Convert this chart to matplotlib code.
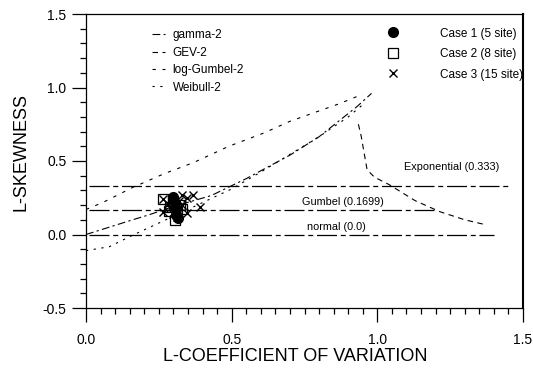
import matplotlib
matplotlib.use("Agg")
import matplotlib.pyplot as plt
from matplotlib.ticker import MultipleLocator, FormatStrFormatter

plt.rcParams['font.family'] = ['Liberation Sans', 'DejaVu Sans']

# ---- data ----
gamma_cv = [0.00, 0.08, 0.16, 0.21, 0.30, 0.43, 0.55, 0.70, 0.80, 0.93, 0.98]
gamma_sk = [0.00, 0.05, 0.10, 0.13, 0.19, 0.265, 0.38, 0.54, 0.665, 0.87, 0.96]

gev_cv = [0.935, 0.945, 0.955, 0.965, 0.99, 1.04, 1.13, 1.215, 1.30, 1.375]
gev_sk = [0.75, 0.665, 0.55, 0.44, 0.39, 0.34, 0.23, 0.155, 0.10, 0.065]

logg_cv = [0.00, 0.06, 0.12, 0.16, 0.27, 0.37, 0.49, 0.61, 0.70, 0.87, 0.95]
logg_sk = [0.17, 0.22, 0.28, 0.32, 0.415, 0.49, 0.60, 0.69, 0.77, 0.89, 0.955]

weib_cv = [0.00, 0.08, 0.16, 0.25, 0.35, 0.43, 0.50, 0.60, 0.70, 0.80, 0.90, 0.96]
weib_sk = [-0.11, -0.083, -0.005, 0.078, 0.17, 0.245, 0.31, 0.425, 0.545, 0.665, 0.80, 0.90]

ref_names = ['Exponential (0.333)', 'Gumbel (0.1699)', 'normal (0.0)']
ref_values = [0.333, 0.1699, 0.0]
ref_xmax = [1.45, 1.20, 1.40]

case1_cv = [0.300, 0.305, 0.310, 0.308, 0.315]
case1_sk = [0.255, 0.215, 0.175, 0.135, 0.110]

case2_cv = [0.265, 0.298, 0.290, 0.312, 0.305, 0.322, 0.285, 0.330]
case2_sk = [0.240, 0.225, 0.190, 0.150, 0.100, 0.200, 0.160, 0.175]

case3_cv = [0.265, 0.280, 0.328, 0.345, 0.368, 0.391, 0.330, 0.345, 0.290,
            0.300, 0.312, 0.265, 0.320, 0.295, 0.310]
case3_sk = [0.240, 0.205, 0.270, 0.246, 0.270, 0.190, 0.200, 0.146, 0.180,
            0.140, 0.120, 0.155, 0.230, 0.250, 0.190]

# ---- figure ----
fig = plt.figure(figsize=(5.33, 3.73), dpi=100)
ax = fig.add_axes([86/533, 1-308/373, (523-86)/533, (308-14)/373])

lw = 0.8
l_gamma, = ax.plot(gamma_cv, gamma_sk, color='black', lw=lw, ls=(0, (7, 3, 2, 3)), label='gamma-2')
l_gev, = ax.plot(gev_cv, gev_sk, color='black', lw=lw, ls=(0, (5, 4)), label='GEV-2')
l_logg, = ax.plot(logg_cv, logg_sk, color='black', lw=lw, ls=(0, (3, 6)), label='log-Gumbel-2')
l_weib, = ax.plot(weib_cv, weib_sk, color='black', lw=lw, ls=(0, (2, 5)), label='Weibull-2')

for v, xm in zip(ref_values, ref_xmax):
    ax.plot([0.01, xm], [v, v], color='black', lw=0.9, ls=(0, (16, 3, 4, 3)))

ax.text(1.09, 0.333 + 0.125, ref_names[0], fontsize=7.8, va='center', ha='left')
ax.text(0.742, 0.1699 + 0.05, ref_names[1], fontsize=7.8, va='center', ha='left')
ax.text(0.759, 0.0 + 0.05, ref_names[2], fontsize=7.8, va='center', ha='left')

s1, = ax.plot(case1_cv, case1_sk, 'o', color='black', ms=7, ls='none', label='Case 1 (5 site)')
s2, = ax.plot(case2_cv, case2_sk, 's', mec='black', mfc='none', ms=7, mew=0.9, ls='none', label='Case 2 (8 site)')
s3, = ax.plot(case3_cv, case3_sk, 'x', color='black', ms=6, mew=1.0, ls='none', label='Case 3 (15 site)')

ax.set_xlim(0, 1.5)
ax.set_ylim(-0.5, 1.5)
ax.xaxis.set_major_locator(MultipleLocator(0.5))
ax.xaxis.set_minor_locator(MultipleLocator(0.05))
ax.yaxis.set_major_locator(MultipleLocator(0.5))
ax.yaxis.set_minor_locator(MultipleLocator(0.1))
ax.xaxis.set_major_formatter(FormatStrFormatter('%.1f'))
ax.yaxis.set_major_formatter(FormatStrFormatter('%.1f'))
ax.tick_params(which='major', direction='out', length=10, width=0.9, labelsize=10, pad=8)
ax.tick_params(which='minor', direction='out', length=4, width=0.9)
ax.tick_params(axis='y', which='major', pad=4)
for sp in ax.spines.values():
    sp.set_linewidth(0.9)
ax.spines['right'].set_linewidth(1.5)

ax.set_xlabel('L-COEFFICIENT OF VARIATION', fontsize=13)
ax.set_ylabel('L-SKEWNESS', fontsize=13)
ax.xaxis.set_label_coords(0.478, -0.135)
ax.yaxis.set_label_coords(-0.13, 0.53)

leg1 = ax.legend(handles=[l_gamma, l_gev, l_logg, l_weib], loc='upper left',
                 bbox_to_anchor=(0.151, 0.948), frameon=False, fontsize=8.5,
                 borderpad=0, borderaxespad=0, handlelength=1.1, handletextpad=0.65,
                 labelspacing=0.46)
ax.add_artist(leg1)
ax.legend(handles=[s1, s2, s3], loc='upper left', bbox_to_anchor=(0.68, 0.954),
          frameon=False, fontsize=8.5, borderpad=0, borderaxespad=0,
          handlelength=1.7, handletextpad=3.1, labelspacing=0.72)

fig.savefig('out.png', dpi=100)
